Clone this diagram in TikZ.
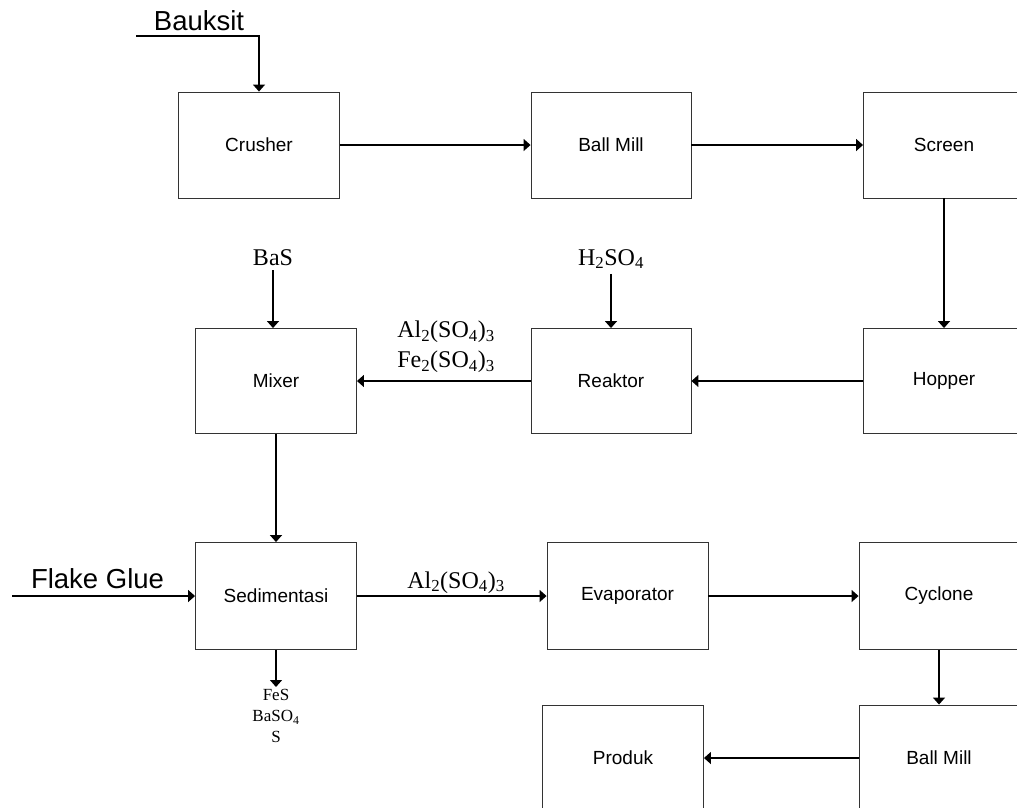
\documentclass[tikz,border=0pt]{standalone}
\usepackage{fontspec}
\setmainfont{Liberation Serif}
\setsansfont{Liberation Sans}
\usetikzlibrary{arrows.meta}
\begin{document}
\begin{tikzpicture}[x=1pt,y=-1pt,
  box/.style={draw=black!80, line width=0.9pt, minimum width=161pt, minimum height=106pt, inner sep=0pt, font=\sffamily\fontsize{19}{23}\selectfont},
  flow/.style={line width=1.4pt, -{Triangle[width=12pt,length=7pt]}},
  chem/.style={font=\fontsize{24}{30}\selectfont, inner sep=0pt},
  smallchem/.style={font=\fontsize{17}{21}\selectfont, inner sep=0pt},
  big/.style={font=\sffamily\fontsize{27.5}{32}\selectfont, inner sep=0pt}]
\useasboundingbox (0,0) rectangle (1017,807);
\clip (0,0) rectangle (1017,807);

% boxes
\node[box] (crusher) at (259,145) {Crusher};
\node[box, minimum width=160pt] (ballmill1) at (611,145) {Ball Mill};
\node[box] (screen) at (944,145) {Screen};
\node[box, minimum height=105pt] (hopper) at (944,381) {Hopper};
\node[box, minimum height=105pt, minimum width=160pt] (reaktor) at (611,381) {Reaktor};
\node[box, minimum height=105pt] (mixer) at (276,381) {Mixer};
\node[box, minimum height=107pt] (sed) at (276,596) {Sedimentasi};
\node[box, minimum height=107pt] (evap) at (627.5,596) {Evaporator};
\node[box, minimum height=107pt, minimum width=160pt] (cyclone) at (939,596) {Cyclone};
\node[box, minimum width=160pt] (ballmill2) at (939,758) {Ball Mill};
\node[box] (produk) at (623,758) {Produk};

% feeds and labels
\node[big, anchor=base] (bauksit) at (199,30) {Bauksit};
\coordinate (bk) at (136,36);
\draw[flow] (bk) -| (crusher.north);

\node[chem, anchor=base, inner ysep=5pt] (bas) at (273,265) {BaS};
\draw[flow] (bas.south) -- (bas.south |- mixer.north);

\node[chem, anchor=base, inner ysep=5pt] (h2so4) at (611,265) {H\textsubscript{2}SO\textsubscript{4}};
\draw[flow] (h2so4.south) -- (h2so4.south |- reaktor.north);

\node[chem, align=center] (lbl1) at (446,347) {Al\textsubscript{2}(SO\textsubscript{4})\textsubscript{3}\\Fe\textsubscript{2}(SO\textsubscript{4})\textsubscript{3}};

\node[big, anchor=base] (flake) at (97.5,588) {Flake Glue};
\coordinate (fg) at (12,596);
\draw[flow] (fg) -- (sed);

\node[chem, anchor=base] (lbl2) at (456,588) {Al\textsubscript{2}(SO\textsubscript{4})\textsubscript{3}};

\coordinate (waste) at (276,687);
\draw[flow] (sed.south) -- (waste);
\node[smallchem, anchor=north, align=center] (wastelbl) at (276,689) {FeS\\BaSO\textsubscript{4}\\S};

% process connectors
\draw[flow] (crusher) -- (ballmill1);
\draw[flow] (ballmill1) -- (screen);
\draw[flow] (screen) -- (hopper);
\draw[flow] (hopper) -- (reaktor);
\draw[flow] (reaktor) -- (mixer);
\draw[flow] (mixer) -- (sed);
\draw[flow] (sed) -- (evap);
\draw[flow] (evap) -- (cyclone);
\draw[flow] (cyclone) -- (ballmill2);
\draw[flow] (ballmill2) -- (produk);
\end{tikzpicture}
\end{document}
